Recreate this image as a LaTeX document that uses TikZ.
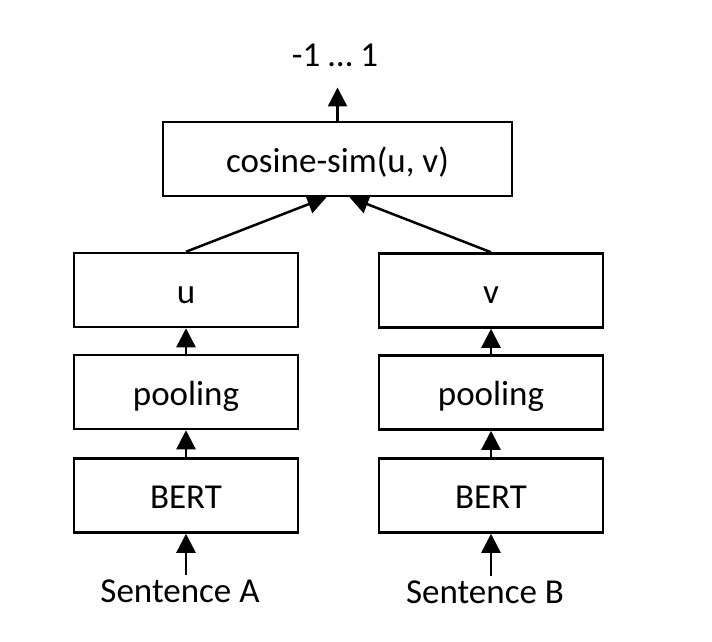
\documentclass[tikz,border=0pt]{standalone}
\usepackage{fontspec}
\setmainfont{Carlito}
\usetikzlibrary{positioning}
\usetikzlibrary{arrows.meta}

\begin{document}
\begin{tikzpicture}[box/.style={rectangle, draw=black, line width=2.5pt, minimum width=224pt, minimum height=74pt, inner sep=0pt, text height=30pt, text depth=4pt}, lbl/.style={inner sep=4pt, anchor=base}, arr/.style={line width=2.5pt, -{Triangle[length=19pt, width=19pt]}}]
\useasboundingbox (0pt, 0pt) rectangle (712pt, -641pt);
\fontsize{35}{42}\selectfont
\node (cos) [box, minimum width=349pt] at (337.5pt, -159.0pt)  {cosine-sim(u, v)};
\node (u) [box] at (186.0pt, -290.0pt)  {u};
\node (poolA) [box] at (186.0pt, -392.0pt)  {pooling};
\node (bertA) [box] at (186.0pt, -495.5pt)  {BERT};
\node (v) [box] at (491.0pt, -290.5pt)  {v};
\node (poolB) [box] at (491.0pt, -392.5pt)  {pooling};
\node (bertB) [box] at (491.0pt, -495.5pt)  {BERT};
\node (sentA) [lbl] at (180.0pt, -602.0pt)  {Sentence A};
\node (sentB) [lbl] at (485.0pt, -603.0pt)  {Sentence B};
\node (out) [lbl] at (335.0pt, -66.0pt)  {-1 … 1};
\draw [arr] (bertA.south |- sentA.north) to  (bertA.south);
\draw [arr] (bertA) to  (poolA);
\draw [arr] (poolA) to  (u);
\draw [arr] (bertB.south |- sentB.north) to  (bertB.south);
\draw [arr] (bertB) to  (poolB);
\draw [arr] (poolB) to  (v);
\draw [arr] (u.north) to  ([xshift=-11pt]cos.south);
\draw [arr] (v.north) to  ([xshift=12pt]cos.south);
\draw [arr] (cos.north) to  ([yshift=-17pt]out.south -| cos.north);
\end{tikzpicture}
\end{document}
